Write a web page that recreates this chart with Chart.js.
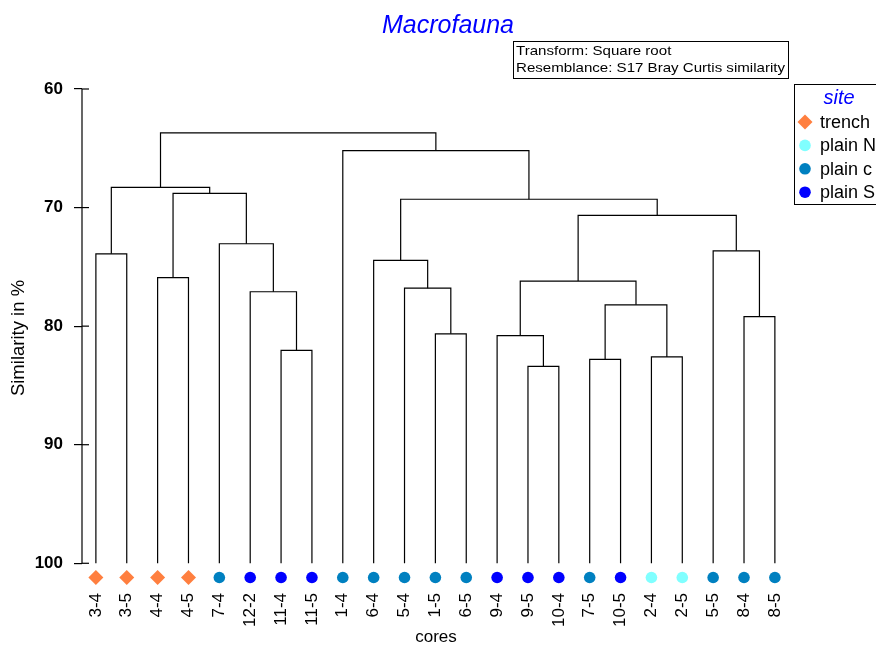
<!DOCTYPE html>
<html>
<head>
<meta charset="utf-8">
<title>Macrofauna</title>
<script src="https://cdn.jsdelivr.net/npm/chart.js@4/dist/chart.umd.min.js"></script>
<style>
  body { margin: 0; background: #fff; }
  canvas { display: block; }
</style>
</head>
<body>
<canvas id="dendro" width="876" height="646"></canvas>
<script>
// Leaves (cores) in dendrogram order, and the site of each core
const cores = ["3-4", "3-5", "4-4", "4-5", "7-4", "12-2", "11-4", "11-5", "1-4", "6-4", "5-4", "1-5",
  "6-5", "9-4", "9-5", "10-4", "7-5", "10-5", "2-4", "2-5", "5-5", "8-4", "8-5"];
const coreSite = ["trench", "trench", "trench", "trench", "plain c", "plain S", "plain S", "plain S",
  "plain c", "plain c", "plain c", "plain c", "plain c", "plain S", "plain S", "plain S", "plain c",
  "plain S", "plain N", "plain N", "plain c", "plain c", "plain c"];

// Merge steps, hclust style: negative = leaf number (1-based), positive = earlier merge step
const mergeA = [-15, -17, -19, -7, -14, -12, -22, 2, -6, -11, 5, -3, -10, -1, -21, -5, 11, 13, 12, 14, -9, 20];
const mergeB = [-16, -18, -20, -8, 1, -13, -23, 3, 4, 6, 8, -4, 10, -2, 7, 9, 15, 17, 16, 19, 18, 21];
const similarity = [83.4, 82.8, 82.6, 82.05, 80.8, 80.65, 79.2, 78.2, 77.1, 76.8, 76.2, 75.9, 74.45,
  73.9, 73.65, 73.05, 70.65, 69.3, 68.8, 68.3, 65.2, 63.7];

const yTicks = [60, 70, 80, 90, 100];
const leafLevel = 100;     // leaves hang down to 100 % similarity
const markerLevel = 101.2; // site symbols sit just below the axis end

const sites = ["trench", "plain N", "plain c", "plain S"];
const siteColor = { "trench": "#FF7F3F", "plain N": "#80FFFF", "plain c": "#0080C0", "plain S": "#0000FF" };

// position of every node: leaves at their index, merges at the middle of their two children
function nodePos(ref) {
  if (ref < 0) return { x: -ref - 1, y: leafLevel };
  const a = nodePos(mergeA[ref - 1]);
  const b = nodePos(mergeB[ref - 1]);
  return { x: (a.x + b.x) / 2, y: similarity[ref - 1] };
}

const datasets = [];
similarity.forEach((h, k) => {
  const a = nodePos(mergeA[k]);
  const b = nodePos(mergeB[k]);
  datasets.push({
    type: "line",
    data: [{ x: a.x, y: a.y }, { x: a.x, y: h }, { x: b.x, y: h }, { x: b.x, y: b.y }],
    borderColor: "#000",
    borderWidth: 1.2,
    pointRadius: 0,
    tension: 0,
    fill: false,
    clip: false
  });
});

datasets.push({
  type: "scatter",
  data: cores.map((c, i) => ({ x: i, y: markerLevel })),
  pointStyle: coreSite.map(s => s === "trench" ? "rectRot" : "circle"),
  pointRadius: coreSite.map(s => s === "trench" ? 7.5 : 5.8),
  pointBackgroundColor: coreSite.map(s => siteColor[s]),
  pointBorderWidth: 0,
  clip: false
});

const font = '"Liberation Sans", Arial, sans-serif';

// axis line (60..100 only), title, info box, legend and inner half of the y ticks
const decorations = {
  id: "decorations",
  afterDraw(chart) {
    const ctx = chart.ctx;
    const yScale = chart.scales.y;
    const ax = yScale.right;
    ctx.save();
    ctx.strokeStyle = "#000";
    ctx.lineWidth = 1.2;
    ctx.beginPath();
    ctx.moveTo(ax, yScale.getPixelForValue(yTicks[0]));
    ctx.lineTo(ax, yScale.getPixelForValue(yTicks[yTicks.length - 1]));
    ctx.stroke();
    yTicks.forEach(v => {
      const py = yScale.getPixelForValue(v);
      ctx.beginPath();
      ctx.moveTo(ax, py);
      ctx.lineTo(ax + 7, py);
      ctx.stroke();
    });

    ctx.fillStyle = "#0000FF";
    ctx.font = "italic 25px " + font;
    ctx.textAlign = "center";
    ctx.textBaseline = "alphabetic";
    ctx.fillText("Macrofauna", 448, 33);

    // info box
    ctx.lineWidth = 1;
    ctx.strokeRect(513.5, 41.5, 275, 37);
    ctx.fillStyle = "#000";
    ctx.textAlign = "left";
    ctx.font = "13px " + font;
    [["Transform: Square root", 55], ["Resemblance: S17 Bray Curtis similarity", 72]].forEach(([t, by]) => {
      ctx.save();
      ctx.translate(516, by);
      ctx.scale(1.16, 1);
      ctx.fillText(t, 0, 0);
      ctx.restore();
    });

    // legend
    ctx.strokeRect(794.5, 84.5, 120, 120);
    ctx.fillStyle = "#0000FF";
    ctx.font = "italic 20px " + font;
    ctx.textAlign = "center";
    ctx.textBaseline = "middle";
    ctx.fillText("site", 839, 98);
    ctx.textAlign = "left";
    ctx.font = "18px " + font;
    sites.forEach((s, i) => {
      const cy = 122 + i * 23.4;
      ctx.fillStyle = siteColor[s];
      ctx.beginPath();
      if (s === "trench") {
        ctx.moveTo(805, cy - 7.5);
        ctx.lineTo(812.5, cy);
        ctx.lineTo(805, cy + 7.5);
        ctx.lineTo(797.5, cy);
        ctx.closePath();
      } else {
        ctx.arc(805, cy, 5.8, 0, Math.PI * 2);
      }
      ctx.fill();
      ctx.fillStyle = "#000";
      ctx.fillText(s, 820, cy + 1);
    });
    ctx.restore();
  }
};

new Chart(document.getElementById("dendro").getContext("2d"), {
  type: "scatter",
  data: { datasets: datasets },
  options: {
    responsive: false,
    animation: false,
    layout: { padding: { top: 89, right: 86, left: 0, bottom: 0 } },
    plugins: { legend: { display: false }, tooltip: { enabled: false }, title: { display: false } },
    scales: {
      x: {
        type: "linear",
        min: -0.45,
        max: 22.49,
        afterFit: s => { s.height = 59; },
        afterBuildTicks: s => { s.ticks = cores.map((c, i) => ({ value: i })); },
        grid: { display: false, drawTicks: false },
        border: { display: false },
        ticks: {
          autoSkip: false,
          minRotation: 90,
          maxRotation: 90,
          padding: 6,
          color: "#000",
          font: { family: font, size: 17 },
          callback: v => cores[v]
        },
        title: {
          display: true,
          text: "cores",
          color: "#000",
          font: { family: font, size: 17, lineHeight: 1 },
          padding: { top: 0, bottom: 0 }
        }
      },
      y: {
        type: "linear",
        reverse: true,
        min: 60,
        max: 102,
        afterFit: s => { s.width = 82; },
        afterBuildTicks: s => { s.ticks = yTicks.map(v => ({ value: v })); },
        grid: { drawOnChartArea: false, drawTicks: true, tickLength: 8, color: "#000", lineWidth: 1.2 },
        border: { display: false },
        ticks: {
          padding: 11,
          color: "#000",
          font: { family: font, size: 17, weight: "bold" }
        },
        title: {
          display: true,
          text: "Similarity in %",
          color: "#000",
          font: { family: font, size: 18.5 },
          padding: { top: 8, bottom: 0 }
        }
      }
    }
  },
  plugins: [decorations]
});
</script>
</body>
</html>
